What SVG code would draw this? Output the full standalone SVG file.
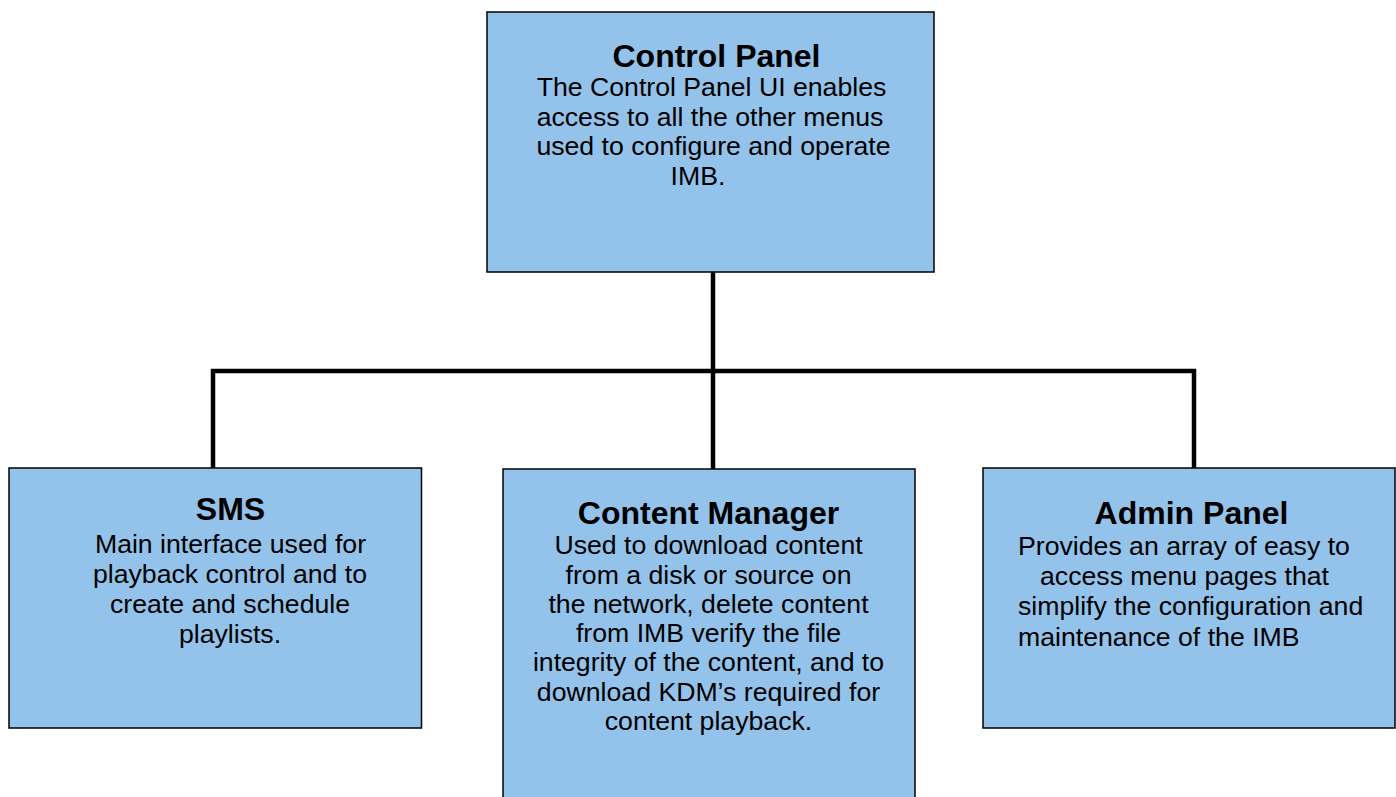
<svg xmlns="http://www.w3.org/2000/svg" width="1396" height="797" viewBox="0 0 1396 797">
<style>
.box{fill:#93c3ea;stroke:#000;stroke-width:1.5}
.t{font-family:"Liberation Sans",Arial,sans-serif;font-size:32px;font-weight:bold;fill:#000;text-anchor:middle}
.b{font-family:"Liberation Sans",Arial,sans-serif;font-size:26.67px;fill:#000;text-anchor:middle}
.l{text-anchor:start}
.c{fill:none;stroke:#000;stroke-width:4.5;stroke-linejoin:miter}
</style>
<rect width="1396" height="797" fill="#fff"/>
<g id="connectors">
<path class="c" d="M713 272 V371"/>
<path class="c" d="M213 468 V371 H1194 V468"/>
<path class="c" d="M713 371 V469"/>
</g>
<g id="control-panel">
<rect class="box" x="487" y="12" width="447" height="260"/>
<text class="t" x="716.5" y="67">Control Panel</text>
<text class="b" x="711.5" y="96">The Control Panel UI enables</text>
<text class="b" x="710" y="125.5">access to all the other menus</text>
<text class="b" x="713.5" y="155">used to configure and operate</text>
<text class="b" x="698" y="184.5">IMB.</text>
</g>
<g id="sms">
<rect class="box" x="9" y="468" width="412.5" height="260"/>
<text class="t" x="230.5" y="519.5">SMS</text>
<text class="b" x="230.5" y="553">Main interface used for</text>
<text class="b" x="230" y="583">playback control and to</text>
<text class="b" x="230" y="613">create and schedule</text>
<text class="b" x="230" y="643">playlists.</text>
</g>
<g id="content-manager">
<rect class="box" x="503" y="469" width="412" height="340"/>
<text class="t" x="708.5" y="524">Content Manager</text>
<text class="b" x="708.5" y="554.3">Used to download content</text>
<text class="b" x="708.5" y="583.5">from a disk or source on</text>
<text class="b" x="708.5" y="612.8">the network, delete content</text>
<text class="b" x="708.5" y="642">from IMB verify the file</text>
<text class="b" x="708.5" y="671.3">integrity of the content, and to</text>
<text class="b" x="708.5" y="700.5">download KDM’s required for</text>
<text class="b" x="708.5" y="729.8">content playback.</text>
</g>
<g id="admin-panel">
<rect class="box" x="983" y="468" width="412" height="260"/>
<text class="t" x="1191.5" y="524">Admin Panel</text>
<text class="b l" x="1018" y="555">Provides an array of easy to</text>
<text class="b l" x="1040" y="585">access menu pages that</text>
<text class="b l" x="1018" y="615">simplify the configuration and</text>
<text class="b l" x="1018" y="645.5">maintenance of the IMB</text>
</g>
</svg>
